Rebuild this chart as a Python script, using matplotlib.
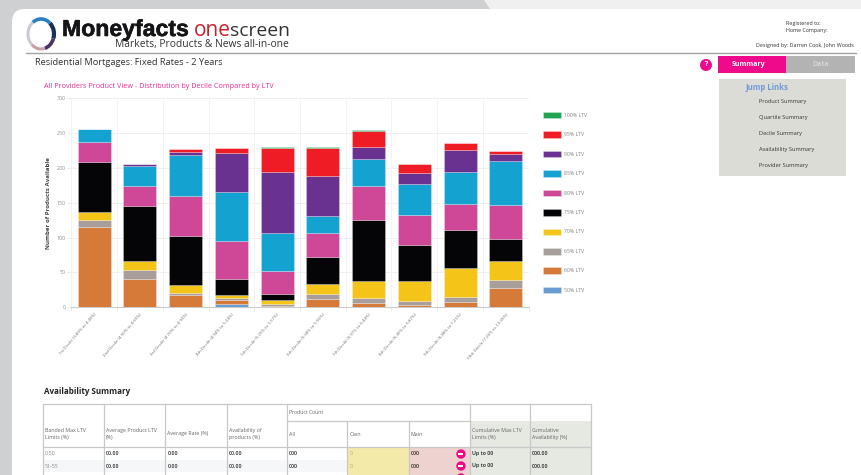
import matplotlib
matplotlib.use("Agg")
import matplotlib.pyplot as plt
import matplotlib.patheffects as pe
from matplotlib.patches import Rectangle, FancyBboxPatch, Circle, Arc, Polygon

plt.rcParams['font.family'] = ['Open Sans', 'DejaVu Sans']

W, H = 862, 475
deciles = ["1st Decile (3.89% to 4.49%)", "2nd Decile (4.50% to 4.69%)", "3rd Decile (4.70% to 4.93%)",
           "4th Decile (4.94% to 5.24%)", "5th Decile (5.25% to 5.57%)", "6th Decile (5.58% to 5.96%)",
           "7th Decile (5.97% to 6.44%)", "8th Decile (6.45% to 6.87%)", "9th Decile (6.88% to 7.25%)",
           "10th Decile (7.26% to 13.35%)"]
ltv_50 = [0, 0, 1, 5, 0, 0, 0, 0, 0, 0]
ltv_60 = [115, 40, 16, 6, 2, 12, 6, 4, 7, 28]
ltv_65 = [10, 13, 4, 3, 3, 7, 8, 5, 8, 11]
ltv_70 = [12, 13, 11, 3, 6, 14, 24, 29, 42, 27]
ltv_75 = [71, 79, 70, 23, 8, 39, 87, 52, 54, 32]
ltv_80 = [29, 29, 58, 55, 33, 34, 49, 43, 37, 48]
ltv_85 = [18, 29, 58, 70, 55, 25, 38, 44, 46, 64]
ltv_90 = [0, 3, 4, 56, 87, 57, 18, 15, 32, 10]
ltv_95 = [0, 0, 5, 7, 35, 41, 23, 13, 10, 4]
ltv_100 = [0, 0, 0, 0, 1, 1, 1, 1, 0, 0]
series_names = ["50% LTV", "60% LTV", "65% LTV", "70% LTV", "75% LTV", "80% LTV", "85% LTV", "90% LTV", "95% LTV", "100% LTV"]
series_vals = [ltv_50, ltv_60, ltv_65, ltv_70, ltv_75, ltv_80, ltv_85, ltv_90, ltv_95, ltv_100]
series_cols = ["#6a9bd1", "#d67a39", "#a89e9b", "#f4c518", "#050508", "#cf4897", "#14a3d1", "#6a3290", "#ef1c25", "#1fa552"]
y_ticks = [0, 50, 100, 150, 200, 250, 300]

table_head = ["Banded Max LTV\nLimits (%)", "Average Product LTV\n(%)", "Average Rate (%)", "Availability of\nproducts (%)",
              "All", "Own", "Main", "Cumulative Max LTV\nLimits (%)", "Cumulative\nAvailability (%)"]
table_rows = [["0-50", "00.00", "0.00", "00.00", "000", "0", "000", "Up to 00", "000.00"],
              ["51-55", "00.00", "0.00", "00.00", "000", "0", "000", "Up to 00", "000.00"]]
jump_links = ["Product Summary", "Quartile Summary", "Decile Summary", "Availability Summary", "Provider Summary"]

fig = plt.figure(figsize=(W / 100, H / 100), dpi=100, facecolor="#cfd0d2")
bg = fig.add_axes([0, 0, 1, 1])
bg.set_xlim(0, W)
bg.set_ylim(H, 0)
bg.axis("off")

# page chrome
bg.add_patch(Polygon([[484, 0], [862, 0], [862, 9], [490, 9]], fc="#f0f0f1", ec="none"))
bg.add_patch(FancyBboxPatch((12, 9), W + 60, H + 60, boxstyle="round,pad=0,rounding_size=13", fc="white", ec="none"))

# logo
for t1, t2, c, lw in [(130, 235, "#c9cdd2", 2.2), (235, 310, "#2a80c4", 2.6), (310, 20, "#17305c", 3.0),
                      (20, 75, "#4a3560", 2.6), (75, 130, "#c9a0a8", 2.2)]:
    bg.add_patch(Arc((41, 34), 26, 30, theta1=t1, theta2=t2, color=c, lw=lw))
bg.text(62, 36, "Moneyfacts", fontsize=16.6, fontweight="bold", color="#151517", va="baseline", ha="left",
        family="Liberation Sans", path_effects=[pe.withStroke(linewidth=0.4, foreground="#151517")])
bg.text(194, 36, "one", fontsize=15, color="#c8202f", va="baseline", ha="left")
bg.text(230, 36, "screen", fontsize=13.9, color="#333333", va="baseline", ha="left")
bg.text(289, 45, "Markets, Products & News all-in-one", fontsize=7.4, color="#333333", va="center", ha="right")
bg.plot([26, 856], [52.5, 52.5], color="#a3a3a3", lw=1)

bg.text(35, 62.5, "Residential Mortgages: Fixed Rates - 2 Years", fontsize=6.7, color="#333333", va="center")
bg.text(44, 86, "All Providers Product View - Distribution by Decile Compared by LTV", fontsize=5.2, color="#ea2e92", va="center")

# header right
bg.text(803, 24, "Registered to:", fontsize=3.9, color="#333333", ha="center", va="center")
bg.text(807, 30.5, "Home Company:", fontsize=3.9, color="#333333", ha="center", va="center")
bg.text(854, 45, "Designed by: Darren Cook, John Woods", fontsize=3.9, color="#333333", ha="right", va="center")

# tabs
bg.add_patch(Circle((706, 65), 6, fc="#ef0a8c", ec="none"))
bg.text(706, 65, "?", fontsize=5, color="white", ha="center", va="center", fontweight="bold")
bg.add_patch(Rectangle((786, 56), 69, 17, fc="#b3b3b3", ec="none"))
bg.add_patch(Rectangle((718, 56), 68, 17, fc="#ef0a8c", ec="none"))
bg.text(748.5, 64.5, "Summary", fontsize=5, color="white", ha="center", va="center", fontweight="bold")
bg.text(821, 64.5, "Data", fontsize=5, color="#d5d5d5", ha="center", va="center", fontweight="bold")

# jump links
bg.add_patch(Rectangle((719, 79), 127.5, 97, fc="#dcdcd6", ec="none"))
bg.text(745.5, 87, "Jump Links", fontsize=5.6, color="#6f9bd8", va="center", fontweight="bold")
for link, yy in zip(jump_links, [101, 117, 133, 149, 165]):
    bg.text(759, yy, link, fontsize=4.1, color="#333333", va="center")

# availability summary
bg.text(44, 391.5, "Availability Summary", fontsize=5.8, color="#222222", va="center", fontweight="bold")
xs = [43, 104, 165.5, 227, 287, 347.5, 409, 470, 530, 591]
y_top, y_sub, y_head, y_r1, y_r2 = 404, 421, 447, 459.5, 472
bg.add_patch(Rectangle((43, y_r1), 304.5, y_r2 - y_r1, fc="#f5f7f9", ec="none"))
bg.add_patch(Rectangle((xs[5], y_head), xs[6] - xs[5], H - y_head, fc="#f3eaa9", ec="none"))
bg.add_patch(Rectangle((xs[6], y_head), xs[7] - xs[6], H - y_head, fc="#eed2d0", ec="none"))
bg.add_patch(Rectangle((xs[7], y_sub), xs[9] - xs[7], H - y_sub, fc="#e6e8e2", ec="none"))
line = dict(color="#c8c8c8", lw=0.9)
bg.plot([43, 591], [y_top, y_top], **line)
bg.plot([287, 470], [y_sub, y_sub], **line)
bg.plot([43, 591], [y_head, y_head], **line)
for i, x in enumerate(xs):
    top = y_sub if i in (5, 6) else y_top
    bg.plot([x, x], [top, H], **line)
bg.text(289, 412.5, "Product Count", fontsize=3.7, color="#666666", va="center")
for i, (h, x) in enumerate(zip(table_head, xs)):
    bg.text(x + 2, 434, h, fontsize=3.8, color="#666666", va="center", linespacing=1.5)
for row, yy in zip(table_rows, [453.5, 466]):
    for i, (v, x) in enumerate(zip(row, xs)):
        col = "#888888" if i == 0 else ("#b5a860" if i == 5 else "#222222")
        bg.text(x + 2, yy, v, fontsize=3.8, color=col, va="center", fontweight="normal" if i in (0, 5) else "semibold")
for yy in [454, 466, 478]:
    bg.add_patch(Circle((461, yy), 4.7, fc="#ef0a8c", ec="none"))
    bg.add_patch(Rectangle((458.5, yy - 1.3), 5, 2.6, fc="white", ec="none"))

# chart
left, right, top, bottom = 71.3, 528.7, 98, 307.3
ax = fig.add_axes([left / W, 1 - bottom / H, (right - left) / W, (bottom - top) / H])
ax.set_facecolor("white")
positions = list(range(len(deciles)))
base = [0] * len(deciles)
handles = []
for vals, col, name in zip(series_vals, series_cols, series_names):
    b = ax.bar(positions, vals, width=0.72, bottom=base, color=col, label=name, zorder=3,
               edgecolor=(1, 1, 1, 0.35), linewidth=0.5)
    handles.append(b)
    base = [p + q for p, q in zip(base, vals)]
ax.set_xlim(-0.5, 9.5)
ax.set_ylim(0, 300)
ax.set_yticks(y_ticks)
ax.set_xticks(positions)
ax.set_xticks([p - 0.5 for p in positions] + [9.5], minor=True)
ax.set_xticklabels(deciles, rotation=49, ha="right", va="top", rotation_mode="anchor", fontsize=3.2, color="#6e6e6e")
ax.tick_params(axis="x", which="major", length=0, pad=3.5)
ax.tick_params(axis="x", which="minor", length=3, width=0.6, color="#e6e6e6")
ax.tick_params(axis="y", length=3, width=0.6, color="#e6e6e6", labelsize=3.8, labelcolor="#8f8f8f", pad=1)
ax.grid(True, axis="y", color="#f0f0f0", lw=0.7, zorder=0)
ax.grid(True, axis="x", which="minor", color="#f3f3f3", lw=0.7, zorder=0)
ax.grid(False, axis="x", which="major")
for s in ["top", "right", "left"]:
    ax.spines[s].set_visible(False)
ax.spines["bottom"].set_color("#cccccc")
ax.spines["bottom"].set_linewidth(0.8)
bg.text(49, 203, "Number of Products Available", rotation=90, fontsize=4.4, color="#444444", ha="center", va="center",
        fontweight="bold")

leg = fig.legend(handles[::-1], series_names[::-1], loc="upper left", bbox_to_anchor=(542.7 / W, 1 - 111.8 / H),
                 frameon=False, fontsize=3.7, handlelength=3.5, handleheight=1.6, handletextpad=0.55,
                 labelspacing=2.5, borderpad=0, borderaxespad=0, labelcolor="#808080")

fig.savefig("out.png", dpi=100, facecolor=fig.get_facecolor())
